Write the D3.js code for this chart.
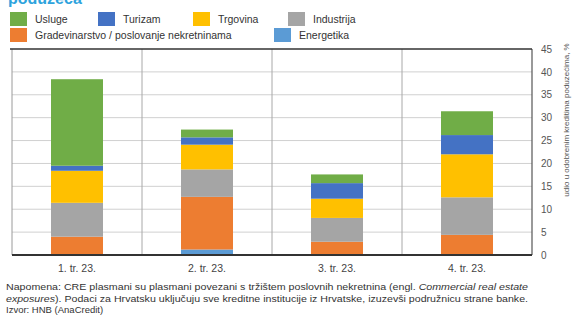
<!DOCTYPE html>
<html>
<head>
<meta charset="utf-8">
<script src="https://cdn.jsdelivr.net/npm/d3@7"></script>
<style>
  html, body { margin: 0; padding: 0; background: #fff; }
  svg { display: block; }
  text { font-family: "Liberation Sans Narrow", "Liberation Sans", Arial, sans-serif; }
</style>
</head>
<body>
<svg id="chart" width="579" height="324"></svg>
<script>
// Quarters on the x axis
const quarters = ["1. tr. 23.", "2. tr. 23.", "3. tr. 23.", "4. tr. 23."];

// Sector shares per quarter (%), stacked bottom to top
const energetika     = [0.0, 1.2, 0.0, 0.0];
const gradevinarstvo = [4.0, 11.5, 2.9, 4.4];
const industrija     = [7.4, 6.0, 5.2, 8.2];
const trgovina       = [7.0, 5.4, 4.2, 9.4];
const turizam        = [1.1, 1.6, 3.4, 4.2];
const usluge         = [18.9, 1.7, 1.9, 5.2];

const yTicks = [0, 5, 10, 15, 20, 25, 30, 35, 40, 45];

const series = [
  { key: "Energetika", values: energetika, color: "#5b9bd5" },
  { key: "Gradevinarstvo / poslovanje nekretninama", values: gradevinarstvo, color: "#ed7d31" },
  { key: "Industrija", values: industrija, color: "#a5a5a5" },
  { key: "Trgovina", values: trgovina, color: "#ffc000" },
  { key: "Turizam", values: turizam, color: "#4472c4" },
  { key: "Usluge", values: usluge, color: "#70ad47" }
];

// Legend layout: two rows
const legendRows = [
  ["Usluge", "Turizam", "Trgovina", "Industrija"],
  ["Gradevinarstvo / poslovanje nekretninama", "Energetika"]
];
const legendX = [[10, 98, 193, 288], [10, 274]];

const svg = d3.select("#chart");
const plot = { left: 12, right: 532, top: 49, bottom: 255 };

const x = d3.scaleBand().domain(quarters).range([plot.left, plot.right]).paddingInner(0).paddingOuter(0);
const y = d3.scaleLinear().domain([0, 45]).range([plot.bottom, plot.top]);

// Clipped heading at the very top
svg.append("text")
  .attr("x", 8).attr("y", 4)
  .attr("fill", "#2ea3dd")
  .attr("font-size", 16).attr("font-weight", "bold")
  .attr("font-family", "Liberation Sans, Arial, sans-serif")
  .text("poduzeća");

// Legend
const colorOf = Object.fromEntries(series.map(s => [s.key, s.color]));
legendRows.forEach((row, ri) => {
  row.forEach((name, ci) => {
    const gx = legendX[ri][ci];
    const gy = ri === 0 ? 12 : 28;
    svg.append("rect").attr("x", gx).attr("y", gy).attr("width", 17).attr("height", 14).attr("fill", colorOf[name]);
    svg.append("text").attr("x", gx + 25).attr("y", gy + 11)
      .attr("font-size", 10.5).attr("fill", "#333").text(name);
  });
});

// Horizontal gridlines
svg.append("g").selectAll("line").data(yTicks.slice(1, -1)).join("line")
  .attr("x1", plot.left).attr("x2", plot.right)
  .attr("y1", d => y(d)).attr("y2", d => y(d))
  .attr("stroke", "#d0d0d0").attr("stroke-width", 1);

// Category separators
svg.append("g").selectAll("line").data(quarters.slice(1)).join("line")
  .attr("x1", d => x(d)).attr("x2", d => x(d))
  .attr("y1", plot.top).attr("y2", plot.bottom)
  .attr("stroke", "#a8a8a8").attr("stroke-width", 1);

// Stacked bars
const table = quarters.map((q, i) => {
  const row = { quarter: q };
  series.forEach(s => row[s.key] = s.values[i]);
  return row;
});
const stack = d3.stack().keys(series.map(s => s.key))(table);
const barW = x.bandwidth() * 0.4;
svg.append("g").selectAll("g").data(stack).join("g")
  .attr("fill", (d, i) => series[i].color)
  .selectAll("rect").data(d => d).join("rect")
  .attr("x", d => x(d.data.quarter) + (x.bandwidth() - barW) / 2)
  .attr("width", barW)
  .attr("y", d => y(d[1]))
  .attr("height", d => y(d[0]) - y(d[1]));

// Plot frame
svg.append("line").attr("x1", plot.left).attr("x2", plot.left).attr("y1", plot.top).attr("y2", plot.bottom)
  .attr("stroke", "#9a9a9a").attr("stroke-width", 1);
svg.append("line").attr("x1", plot.right).attr("x2", plot.right).attr("y1", plot.top).attr("y2", plot.bottom)
  .attr("stroke", "#555").attr("stroke-width", 1.2);
svg.append("line").attr("x1", plot.left - 2).attr("x2", plot.right).attr("y1", plot.top).attr("y2", plot.top)
  .attr("stroke", "#333").attr("stroke-width", 1.4);
svg.append("line").attr("x1", plot.left).attr("x2", plot.right).attr("y1", plot.bottom).attr("y2", plot.bottom)
  .attr("stroke", "#333").attr("stroke-width", 2);

// Right value axis
const yAxis = d3.axisRight(y).tickValues(yTicks).tickSize(0).tickPadding(9);
const ya = svg.append("g").attr("transform", `translate(${plot.right},0)`).call(yAxis);
ya.select(".domain").remove();
ya.selectAll("text").attr("font-size", 10).attr("fill", "#555")
  .attr("font-family", "Liberation Sans Narrow, Liberation Sans, Arial, sans-serif");

// Axis title
svg.append("text")
  .attr("transform", "translate(569,120) rotate(-90)")
  .attr("text-anchor", "middle")
  .attr("font-size", 8).attr("fill", "#555")
  .text("udio u odobrenim kreditima poduzećima, %");

// Category labels
const xAxis = d3.axisBottom(x).tickSize(0).tickPadding(10);
const xa = svg.append("g").attr("transform", `translate(0,${plot.bottom})`).call(xAxis);
xa.select(".domain").remove();
xa.selectAll("text").attr("font-size", 10.5).attr("fill", "#444")
  .attr("font-family", "Liberation Sans Narrow, Liberation Sans, Arial, sans-serif");

// Notes and source
const notes = svg.append("g").attr("font-size", 9.5).attr("fill", "#333");
const n1 = notes.append("text").attr("x", 6).attr("y", 290).attr("textLength", 522).attr("lengthAdjust", "spacingAndGlyphs");
n1.append("tspan").text("Napomena: CRE plasmani su plasmani povezani s tržištem poslovnih nekretnina (engl. ");
n1.append("tspan").attr("font-style", "italic").text("Commercial real estate");
const n2 = notes.append("text").attr("x", 6).attr("y", 302).attr("textLength", 522).attr("lengthAdjust", "spacingAndGlyphs");
n2.append("tspan").attr("font-style", "italic").text("exposures");
n2.append("tspan").text("). Podaci za Hrvatsku uključuju sve kreditne institucije iz Hrvatske, izuzevši podružnicu strane banke.");
notes.append("text").attr("x", 6).attr("y", 313).text("Izvor: HNB (AnaCredit)");
</script>
</body>
</html>
